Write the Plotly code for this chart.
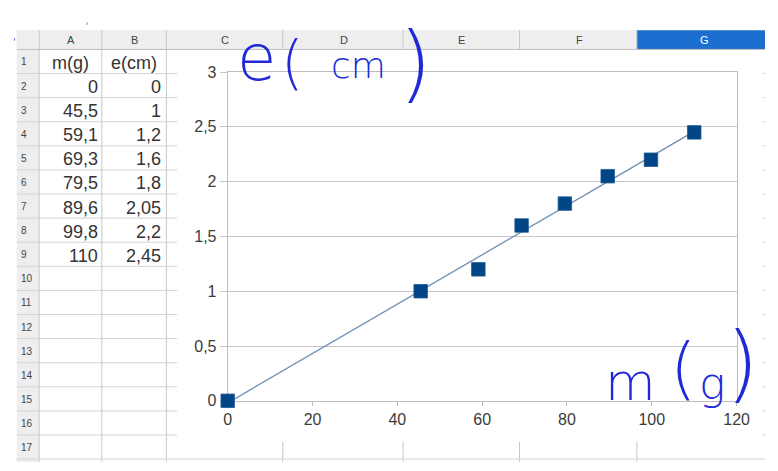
import numpy as np
import plotly.graph_objects as go

# ---- data ----
mass_g = [0, 45.5, 59.1, 69.3, 79.5, 89.6, 99.8, 110]
elong_cm = [0, 1, 1.2, 1.6, 1.8, 2.05, 2.2, 2.45]
header_cols = ["A", "B", "C", "D", "E", "F", "G"]
cell_headers = ["m(g)", "e(cm)"]
mass_txt = ["0", "45,5", "59,1", "69,3", "79,5", "89,6", "99,8", "110"]
elong_txt = ["0", "1", "1,2", "1,6", "1,8", "2,05", "2,2", "2,45"]
x_ticks = [0, 20, 40, 60, 80, 100, 120]
y_ticks = [0, 0.5, 1, 1.5, 2, 2.5, 3]

W, H = 778, 471
def px(x):
    return x / W
def py(y):
    return 1 - y / H

# linear trend line from the data
slope, icpt = np.polyfit(mass_g, elong_cm, 1)
tx = [min(mass_g), max(mass_g)]
ty = [slope * v + icpt for v in tx]

fig = go.Figure()
fig.add_trace(go.Scatter(x=tx, y=ty, mode="lines",
                         line=dict(color="#6f8fb3", width=1.3),
                         hoverinfo="skip", showlegend=False, cliponaxis=False))
fig.add_trace(go.Scatter(x=mass_g, y=elong_cm, mode="markers",
                         marker=dict(symbol="square", size=13.5, color="#004586",
                                     line=dict(color="#1f5a96", width=0.8)),
                         showlegend=False, cliponaxis=False))

shapes = []
GRID = "#d4d4d4"
HDR = "#eeeeee"
shapes.append(dict(type="rect", xref="paper", yref="paper", x0=px(13), x1=px(778),
                   y0=py(43), y1=py(23), fillcolor=HDR, line=dict(width=0), layer="below"))
shapes.append(dict(type="rect", xref="paper", yref="paper", x0=px(13), x1=px(36),
                   y0=py(471), y1=py(43), fillcolor=HDR, line=dict(width=0), layer="below"))
shapes.append(dict(type="rect", xref="paper", yref="paper", x0=px(647), x1=px(778),
                   y0=py(43), y1=py(23), fillcolor="#1c6fcf", line=dict(width=0), layer="below"))
col_edges = [36, 100, 166, 285, 408, 527, 647]
for cx in col_edges:
    shapes.append(dict(type="line", xref="paper", yref="paper", x0=px(cx), x1=px(cx),
                       y0=py(471), y1=py(23), line=dict(color="#c8c8c8", width=1), layer="below"))
for r in range(0, 18):
    yy = 43 + 25 * r
    shapes.append(dict(type="line", xref="paper", yref="paper", x0=px(13), x1=px(778),
                       y0=py(yy), y1=py(yy), line=dict(color=GRID if r else "#bdbdbd", width=1),
                       layer="below"))
shapes.append(dict(type="rect", xref="paper", yref="paper", x0=px(177), x1=px(775),
                   y0=py(450), y1=py(43.6), fillcolor="white", line=dict(width=0), layer="below"))

ann = []
col_centers = [68, 133, 226, 348, 468, 588, 716]
for i, c in enumerate(header_cols):
    ann.append(dict(x=px(col_centers[i]), y=py(33), xref="paper", yref="paper", text=c,
                    showarrow=False, font=dict(family="Liberation Sans", size=11,
                    color="white" if c == "G" else "#444444"), xanchor="center", yanchor="middle"))
for r in range(1, 18):
    ann.append(dict(x=px(15), y=py(43 + 25 * r - 12), xref="paper", yref="paper", text=str(r),
                    showarrow=False, font=dict(family="Liberation Sans Narrow, Liberation Sans", size=10, color="#444444"),
                    xanchor="left", yanchor="middle"))
cf = dict(family="Liberation Sans", size=18, color="#333333")
ann.append(dict(x=px(68), y=py(57), xref="paper", yref="paper", text=cell_headers[0],
                showarrow=False, font=cf, xanchor="center", yanchor="middle"))
ann.append(dict(x=px(133), y=py(57), xref="paper", yref="paper", text=cell_headers[1],
                showarrow=False, font=cf, xanchor="center", yanchor="middle"))
for i in range(len(mass_txt)):
    yc = 43 + 25 * (i + 1) + 14
    ann.append(dict(x=px(98), y=py(yc), xref="paper", yref="paper", text=mass_txt[i],
                    showarrow=False, font=cf, xanchor="right", yanchor="middle"))
    ann.append(dict(x=px(163), y=py(yc), xref="paper", yref="paper", text=elong_txt[i],
                    showarrow=False, font=cf, xanchor="right", yanchor="middle"))

INK = "#2028d8"
hw = [("e", 258, 52, 64), ("(", 295, 57, 58), ("cm", 362, 60, 36), (")", 421, 57, 84),
      ("m", 641, 388, 52), ("(", 695, 374, 68), ("g", 724, 390, 44), (")", 755, 368, 84),
      (",", 11, 26, 16), (",", 85, 10, 14)]
for t, x, y, s in hw:
    ann.append(dict(x=px(x), y=py(y), xref="paper", yref="paper", text=t, showarrow=False,
                    font=dict(family="DejaVu Sans", size=s, color=INK, weight=200),
                    xanchor="center", yanchor="middle"))

tickfont = dict(family="Liberation Sans", size=16, color="#3c3c3c")
AX = "#bdbdbd"
fig.update_layout(
    width=W, height=H, autosize=False,
    margin=dict(l=0, r=0, t=0, b=0, pad=0),
    paper_bgcolor="white", plot_bgcolor="rgba(0,0,0,0)",
    separators=", ",
    shapes=shapes, annotations=ann,
    xaxis=dict(domain=[px(228.7), px(749)], range=[0, 120], tickvals=x_ticks,
               showgrid=False, zeroline=False, showline=True, linecolor=AX, linewidth=1,
               mirror=True, ticks="outside", ticklen=4, tickcolor=AX, tickfont=tickfont,
               fixedrange=True, layer="below traces"),
    yaxis=dict(domain=[py(407.5), py(66.5)], range=[0, 3], tickvals=y_ticks,
               showgrid=True, gridcolor="#c6c6c6", zeroline=False, showline=True,
               linecolor=AX, linewidth=1, mirror=True, ticks="outside", ticklen=7,
               tickcolor="#c6c6c6", tickfont=tickfont, fixedrange=True,
               layer="below traces"),
)

fig.write_html("out.html", config={"displayModeBar": False},
               post_script="document.body.style.margin='0';document.body.style.overflow='hidden';")
